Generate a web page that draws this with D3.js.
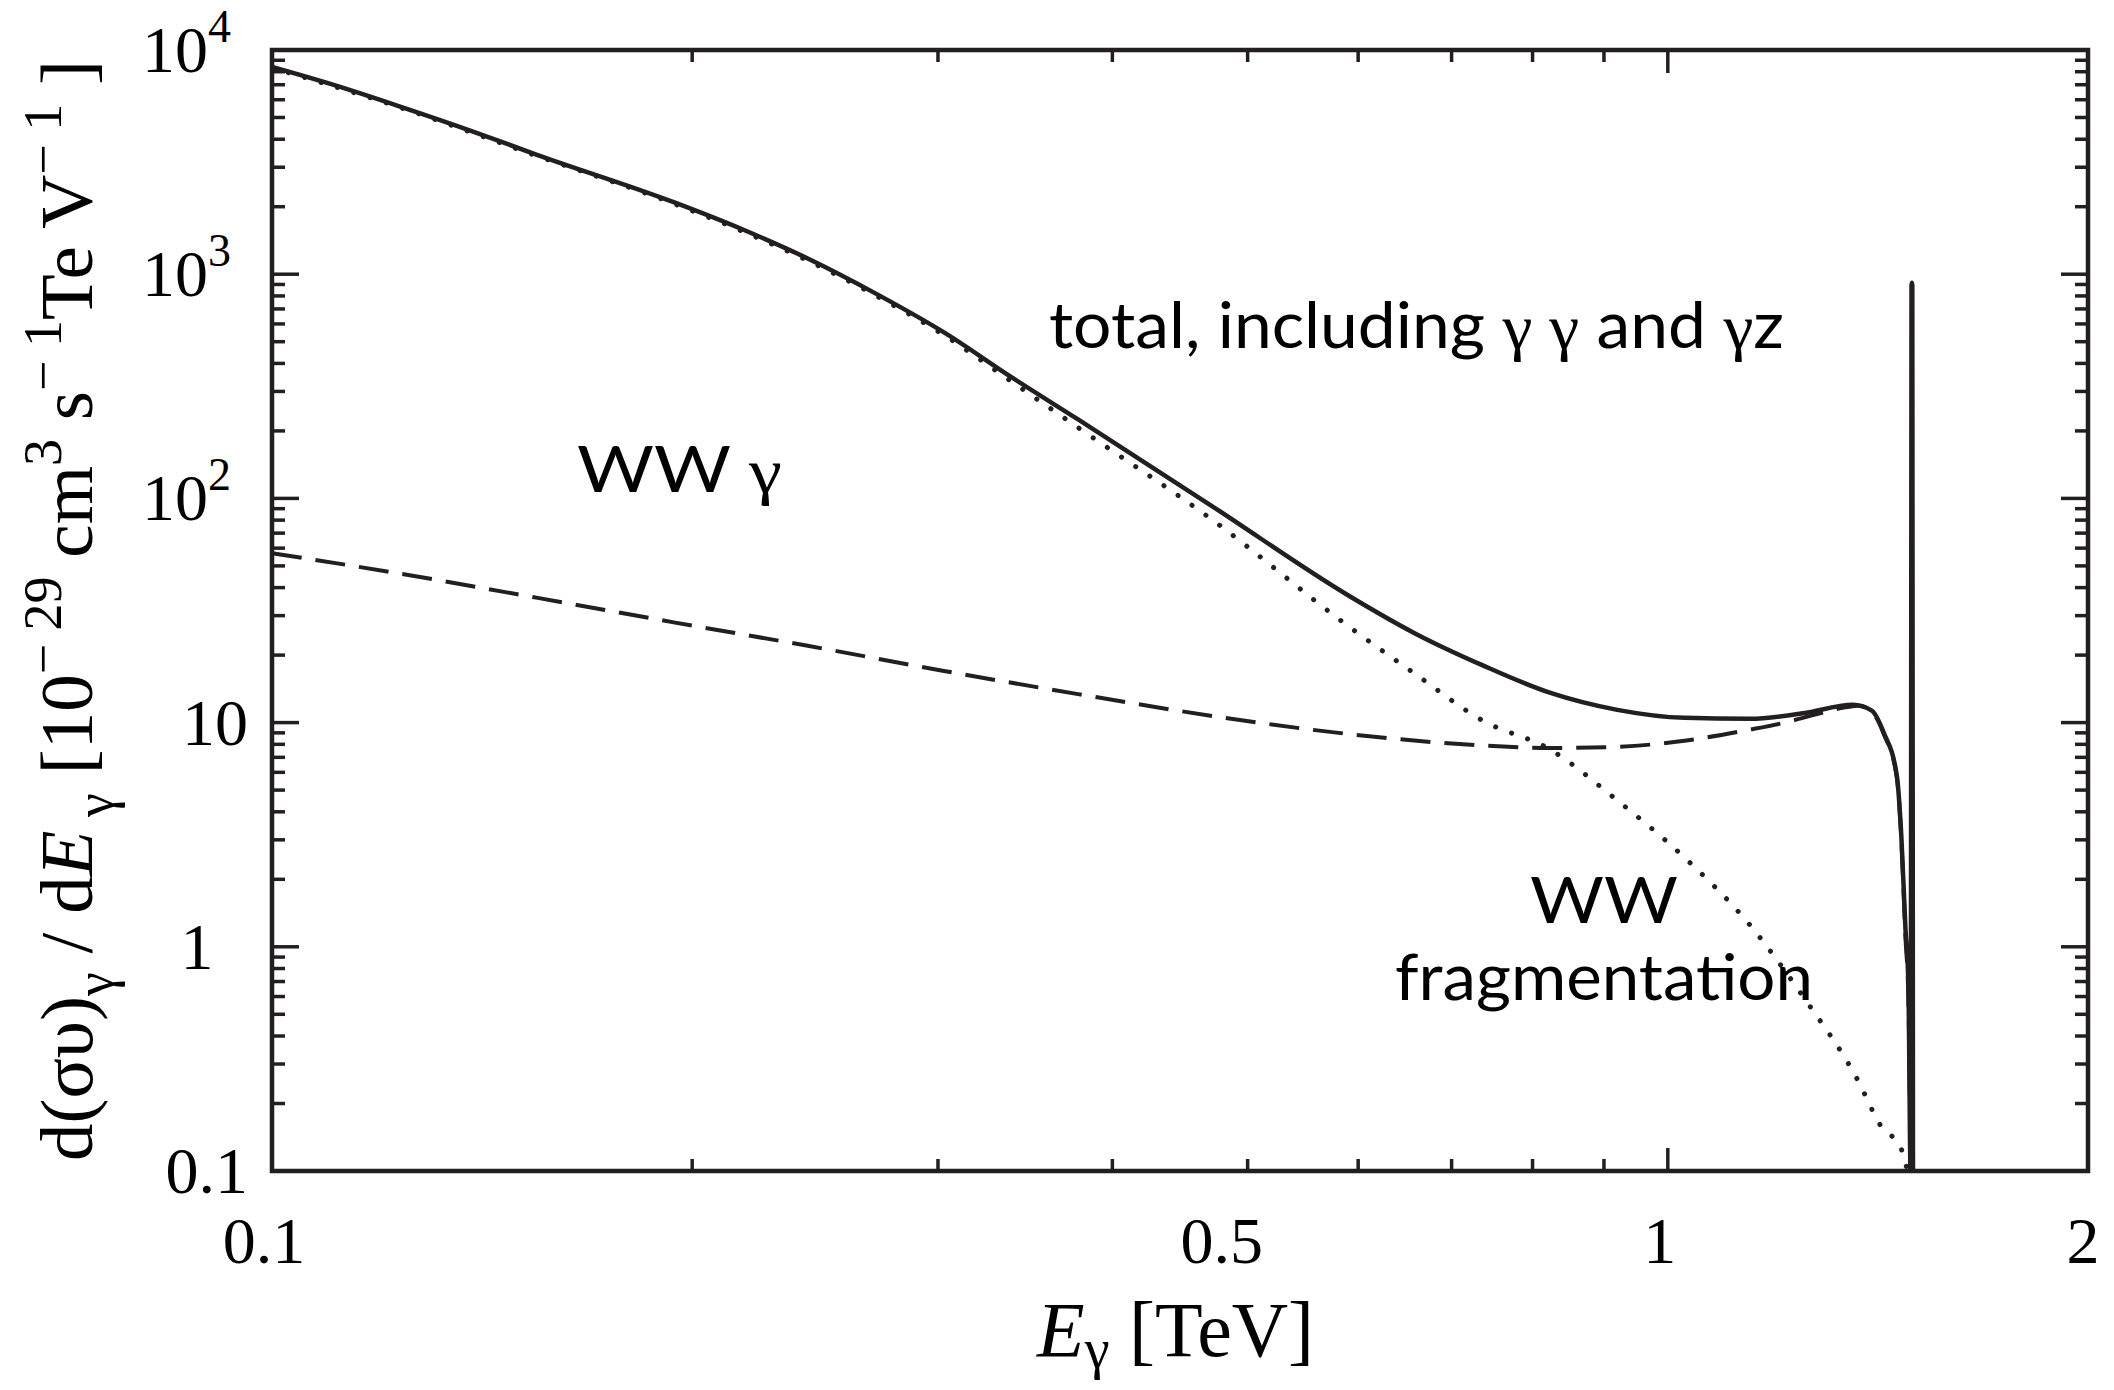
<!DOCTYPE html>
<html>
<head>
<meta charset="utf-8">
<script src="https://cdn.jsdelivr.net/npm/d3@7"></script>
<style>
  body { margin: 0; background: #fff; }
  svg { display: block; }
</style>
</head>
<body>
<script>
// Chart size and frame
const width = 2114;
const height = 1390;
const margin = { top: 50, right: 26, bottom: 219, left: 272 };
const ink = "#231f20";

// Data: photon spectrum, E in TeV, value in 1e-29 cm^3 s^-1 TeV^-1
const totalCurve = [
  [0.100, 8400], [0.111, 6950], [0.124, 5550], [0.139, 4350], [0.155, 3400],
  [0.194, 2095], [0.217, 1590], [0.242, 1175], [0.271, 817], [0.303, 550],
  [0.338, 350], [0.378, 225], [0.472, 92], [0.590, 37], [0.659, 25],
  [0.737, 18], [0.823, 13.6], [0.920, 11.4], [1.028, 10.5], [1.145, 10.4],
  [1.250, 11.0], [1.357, 12.0], [1.400, 11.3], [1.428, 9.0], [1.459, 5.8],
  [1.470, 3.1], [1.480, 1.2], [1.487, 0.7], [1.493, 0.09],
  [1.4948, 890], [1.4958, 915], [1.4968, 890], [1.4985, 0.09]
];

const wwGammaCurve = [
  [0.100, 57], [0.124, 46], [0.155, 36], [0.194, 28], [0.242, 22],
  [0.303, 17], [0.378, 13.4], [0.472, 10.7], [0.590, 8.9], [0.737, 7.9],
  [0.823, 7.7], [0.920, 7.8], [1.028, 8.3], [1.145, 9.3], [1.221, 10.1],
  [1.285, 11.0], [1.340, 11.7], [1.370, 11.9], [1.400, 11.2], [1.428, 8.9],
  [1.459, 5.7], [1.470, 3.0], [1.480, 1.1], [1.487, 0.6], [1.493, 0.09]
];

const fragCurve = [
  [0.100, 8340], [0.124, 5500], [0.155, 3360], [0.194, 2065], [0.217, 1560],
  [0.242, 1150], [0.271, 800], [0.303, 535], [0.338, 335], [0.378, 207],
  [0.472, 80], [0.590, 27], [0.659, 16.5], [0.737, 10.2], [0.823, 7.6],
  [0.920, 4.5], [1.028, 2.5], [1.145, 1.25], [1.250, 0.6], [1.370, 0.25],
  [1.420, 0.16], [1.470, 0.125], [1.490, 0.09]
];

// Ticks
const xMajorTicks = [1];
const xMinorTicks = [0.2, 0.3, 0.4, 0.5, 0.6, 0.7, 0.8, 0.9];
const xTickLabels = [
  { v: 0.1, text: "0.1", dx: -8 },
  { v: 0.5, text: "0.5", dx: -26 },
  { v: 1, text: "1", dx: -8 },
  { v: 2, text: "2", dx: -5 }
];
const yMajorTicks = [1, 10, 100, 1000];
const yMinorTicks = d3.range(-1, 4).flatMap(e => d3.range(2, 10).map(m => m * Math.pow(10, e)));
const yTickLabels = [
  { v: 0.1, base: "0.1", exp: null },
  { v: 1, base: "1", exp: null },
  { v: 10, base: "10", exp: null },
  { v: 100, base: "10", exp: "2" },
  { v: 1000, base: "10", exp: "3" },
  { v: 10000, base: "10", exp: "4" }
];

const svg = d3.select("body")
  .append("svg")
  .attr("width", width)
  .attr("height", height);

// Scales
const x = d3.scaleLog()
  .domain([0.1, 2])
  .range([margin.left, width - margin.right]);

const y = d3.scaleLog()
  .domain([0.1, 1e4])
  .range([height - margin.bottom, margin.top]);

const x0 = x.range()[0], x1 = x.range()[1];
const y0 = y.range()[0], y1 = y.range()[1];

// Clip for curves
svg.append("clipPath").attr("id", "plot")
  .append("rect")
  .attr("x", x0).attr("y", y1)
  .attr("width", x1 - x0).attr("height", y0 - y1);

const line = d3.line()
  .x(d => x(d[0]))
  .y(d => y(d[1]))
  .curve(d3.curveMonotoneX);

const curves = svg.append("g").attr("clip-path", "url(#plot)");

// WW fragmentation (dotted)
curves.append("path")
  .datum(fragCurve)
  .attr("d", line)
  .attr("fill", "none")
  .attr("stroke", ink)
  .attr("stroke-width", 5)
  .attr("stroke-linecap", "round")
  .attr("stroke-dasharray", "0.1,17");

// WW gamma (dashed)
curves.append("path")
  .datum(wwGammaCurve)
  .attr("d", line)
  .attr("fill", "none")
  .attr("stroke", ink)
  .attr("stroke-width", 4)
  .attr("stroke-dasharray", "30,14");

// total (solid)
curves.append("path")
  .datum(totalCurve)
  .attr("d", line)
  .attr("fill", "none")
  .attr("stroke", ink)
  .attr("stroke-width", 4.5)
  .attr("stroke-linejoin", "round");

// Ticks on all four sides, pointing inward
const ticks = svg.append("g").attr("stroke", ink).attr("stroke-width", 3.5);
const majorLen = 27, minorLen = 13;

function xTicks(vals, len) {
  vals.forEach(v => {
    ticks.append("line").attr("x1", x(v)).attr("x2", x(v)).attr("y1", y0).attr("y2", y0 - len);
    ticks.append("line").attr("x1", x(v)).attr("x2", x(v)).attr("y1", y1).attr("y2", y1 + len);
  });
}
function yTicks(vals, len) {
  vals.forEach(v => {
    ticks.append("line").attr("y1", y(v)).attr("y2", y(v)).attr("x1", x0).attr("x2", x0 + len);
    ticks.append("line").attr("y1", y(v)).attr("y2", y(v)).attr("x1", x1).attr("x2", x1 - len);
  });
}
xTicks(xMajorTicks, majorLen - 4);
xTicks(xMinorTicks, minorLen - 1);
yTicks(yMajorTicks, majorLen);
yTicks(yMinorTicks, minorLen);

// Frame
svg.append("rect")
  .attr("x", x0).attr("y", y1)
  .attr("width", x1 - x0).attr("height", y0 - y1)
  .attr("fill", "none")
  .attr("stroke", ink)
  .attr("stroke-width", 4.5);

// Tick labels
const serif = "'Liberation Serif', 'Times New Roman', serif";
const sans = "Lato, 'Open Sans', sans-serif";

svg.append("g").selectAll("text")
  .data(xTickLabels)
  .join("text")
  .attr("x", d => x(d.v) + d.dx)
  .attr("y", 1263)
  .attr("text-anchor", "middle")
  .attr("font-family", serif)
  .attr("font-size", 66)
  .attr("fill", "#000")
  .text(d => d.text);

const yl = svg.append("g")
  .attr("font-family", serif)
  .attr("font-size", 66)
  .attr("fill", "#000");

yTickLabels.forEach(d => {
  const t = yl.append("text").attr("y", y(d.v) + 22);
  if (d.exp) {
    t.attr("x", 142);
    t.append("tspan").text(d.base);
    t.append("tspan").attr("font-size", 46).attr("dy", -30).text(d.exp);
  } else if (d.base === "1") {
    t.attr("x", 197).attr("text-anchor", "middle").text(d.base);
  } else {
    t.attr("x", 248).attr("text-anchor", "end").text(d.base);
  }
});

// Rich text helper: parts with optional sub / sup / italic / font
function rich(sel, parts, size, subShift = 0.28) {
  let shift = 0;
  parts.forEach(p => {
    const target = p.sub ? subShift * size : p.sup ? -0.42 * size : 0;
    const ts = sel.append("tspan")
      .attr("dy", target - shift)
      .text(p.t);
    shift = target;
    if (p.sub || p.sup) ts.attr("font-size", size * 0.72);
    if (p.italic) ts.attr("font-style", "italic");
    if (p.font) ts.attr("font-family", p.font);
  });
}

// Y axis title
const yTitle = svg.append("text")
  .attr("transform", `translate(92,${(y0 + y1) / 2}) rotate(-90)`)
  .attr("text-anchor", "middle")
  .attr("font-family", serif)
  .attr("font-size", 75)
  .attr("fill", "#000");
rich(yTitle, [
  { t: "d(συ)" }, { t: "γ", sub: true }, { t: " / d" }, { t: "E", italic: true },
  { t: " γ", sub: true }, { t: "  [10" }, { t: "− 29", sup: true }, { t: " cm" },
  { t: "3", sup: true }, { t: " s" }, { t: "− 1", sup: true }, { t: "Te V" },
  { t: "− 1", sup: true }, { t: " ]" }
], 75);

// X axis title
const xTitle = svg.append("text")
  .attr("x", 1037)
  .attr("y", 1356)
  .attr("font-family", serif)
  .attr("font-size", 78)
  .attr("fill", "#000");
rich(xTitle, [
  { t: "E", italic: true }, { t: "γ", sub: true }, { t: " [TeV]" }
], 78, 0.16);

// Curve annotations
const notes = svg.append("g")
  .attr("font-family", sans)
  .attr("font-size", 64)
  .attr("fill", "#000");

const tTotal = notes.append("text").attr("x", 1049).attr("y", 348)
  .attr("textLength", 735).attr("lengthAdjust", "spacingAndGlyphs");
rich(tTotal, [
  { t: "total, including " }, { t: "γ γ", font: serif }, { t: " and " },
  { t: "γ", font: serif }, { t: "z" }
], 64);

const tWwg = notes.append("text").attr("x", 577).attr("y", 492)
  .attr("textLength", 205).attr("lengthAdjust", "spacingAndGlyphs");
rich(tWwg, [{ t: "WW " }, { t: "γ", font: serif }], 64);

notes.append("text").attr("x", 1530).attr("y", 923)
  .attr("textLength", 148).attr("lengthAdjust", "spacingAndGlyphs")
  .text("WW");
notes.append("text").attr("x", 1395).attr("y", 1000)
  .attr("textLength", 418).attr("lengthAdjust", "spacingAndGlyphs")
  .text("fragmentation");
</script>
</body>
</html>
